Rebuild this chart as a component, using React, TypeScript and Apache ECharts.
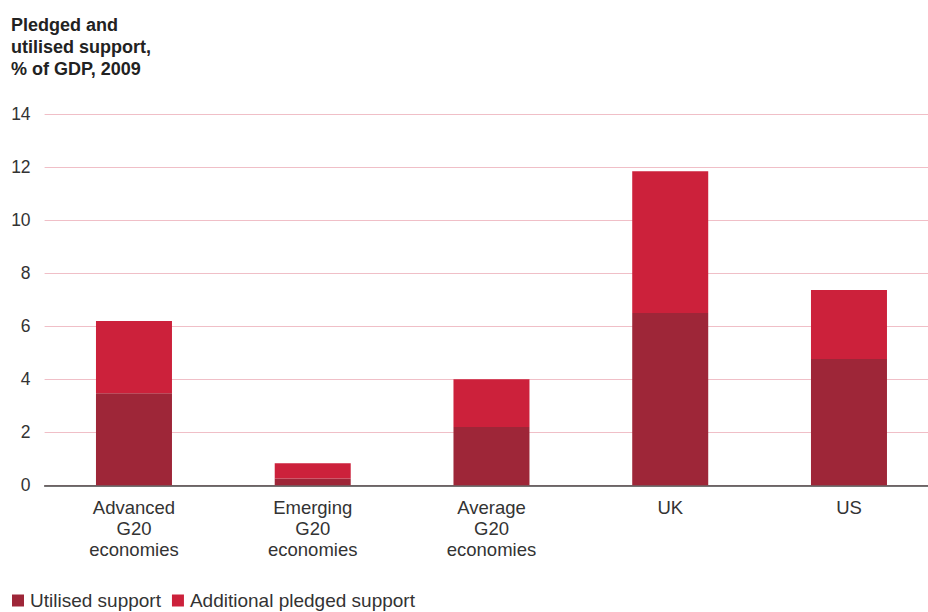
import React, { useEffect, useRef } from "react";
import * as echarts from "echarts";

const categories = [
  "Advanced\nG20\neconomies",
  "Emerging\nG20\neconomies",
  "Average\nG20\neconomies",
  "UK",
  "US",
];
const utilised = [3.47, 0.26, 2.2, 6.5, 4.77];
const additional = [2.73, 0.57, 1.8, 5.35, 2.6];
const seriesNames = ["Utilised support", "Additional pledged support"];
const titleText = "Pledged and\nutilised support,\n% of GDP, 2009";

export default function App() {
  const ref = useRef<HTMLDivElement>(null);
  useEffect(() => {
    if (!ref.current) return;
    const chart = echarts.init(ref.current, undefined, { renderer: "svg" });
    const font = "'Liberation Sans', Arial, Helvetica, sans-serif";
    chart.setOption({
      animation: false,
      textStyle: { fontFamily: font },
      title: {
        text: titleText,
        left: 11,
        top: 14,
        padding: 0,
        textStyle: {
          fontFamily: font,
          fontSize: 18,
          fontWeight: "bold",
          color: "#222",
          lineHeight: 22,
        },
      },
      legend: {
        left: 12,
        bottom: 2,
        padding: 0,
        itemWidth: 12,
        itemHeight: 12,
        itemGap: 11,
        icon: "rect",
        textStyle: { fontFamily: font, fontSize: 19, color: "#333", padding: [0, 0, 0, 1] },
        data: seriesNames,
      },
      grid: {
        left: 44.6,
        right: 1.65,
        top: 114.3,
        height: 371,
        containLabel: false,
      },
      xAxis: {
        type: "category",
        data: categories,
        axisLine: { show: true, lineStyle: { color: "#444", width: 1.5 } },
        axisTick: { show: false },
        axisLabel: {
          fontFamily: font,
          fontSize: 18.5,
          color: "#333",
          lineHeight: 21,
          margin: 12,
          interval: 0,
        },
      },
      yAxis: {
        type: "value",
        min: 0,
        max: 14,
        interval: 2,
        axisLine: { show: false },
        axisTick: { show: false },
        splitLine: { lineStyle: { color: "#f0bfc7", width: 1.2 } },
        axisLabel: {
          fontFamily: font,
          fontSize: 17.5,
          color: "#333",
          margin: 14,
        },
      },
      series: [
        {
          name: seriesNames[0],
          type: "bar",
          stack: "total",
          barWidth: 76,
          data: utilised,
          itemStyle: { color: "#9e2638" },
        },
        {
          name: seriesNames[1],
          type: "bar",
          stack: "total",
          barWidth: 76,
          data: additional,
          itemStyle: { color: "#cc213b" },
        },
      ],
    });
    return () => chart.dispose();
  }, []);
  return (
    <div
      style={{ position: "absolute", left: 0, top: 0, width: 928, height: 612, overflow: "hidden" }}
    >
      <div ref={ref} style={{ width: 940, height: 612 }} />
    </div>
  );
}
